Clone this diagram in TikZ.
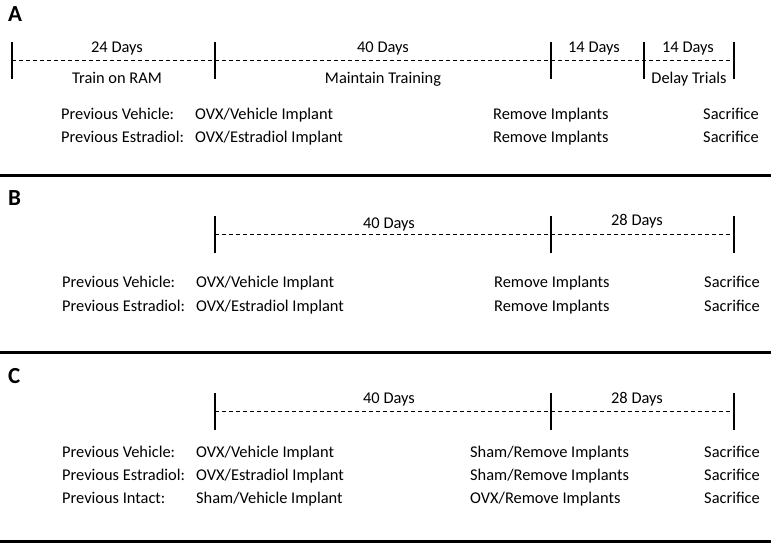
\documentclass[tikz,border=0pt]{standalone}
\usepackage{fontspec}
\setmainfont{Carlito}
\usepackage{xcolor}

\begin{document}
\begin{tikzpicture}[x=1pt, y=-1pt]
        \tikzstyle{marca}=[line width=1.1pt]
        \tikzstyle{periodo}=[dash pattern=on 4pt off 3pt, line width=0.9pt]
        \tikzstyle{divisa}=[line width=3pt]
        \tikzstyle{texto}=[inner sep=0pt, font=\fontsize{16.4}{19}\selectfont]
        \tikzstyle{painel}=[inner sep=0pt, font=\fontsize{23}{27}\selectfont\bfseries]

        \useasboundingbox (0,0) rectangle (771,543);

        % A
        \coordinate (A0) at (12,60);
        \coordinate (A1) at (215,60);
        \coordinate (A2) at (551,60);
        \coordinate (A3) at (644,60);
        \coordinate (A4) at (734,60);
        \coordinate (RA1) at (0,175);
        \coordinate (RA2) at (771,175);

        \node (pA) at (8,22)[painel, anchor=base west]{A};

        \draw[periodo] (A0) -- (A4);
        \draw[marca] (A0) +(0,-18) -- +(0,19);
        \draw[marca] (A1) +(0,-18) -- +(0,19);
        \draw[marca] (A2) +(0,-18) -- +(0,19);
        \draw[marca] (A3) +(0,-18) -- +(0,19);
        \draw[marca] (A4) +(0,-18) -- +(0,19);

        \node (dA1) at (117,53)[texto, anchor=base]{24 Days};
        \node (dA2) at (383,53)[texto, anchor=base]{40 Days};
        \node (dA3) at (594,53)[texto, anchor=base]{14 Days};
        \node (dA4) at (688,53)[texto, anchor=base]{14 Days};
        \node (fA1) at (117,84)[texto, anchor=base]{Train on RAM};
        \node (fA2) at (383,84)[texto, anchor=base]{Maintain Training};
        \node (fA3) at (689,84)[texto, anchor=base]{Delay Trials};

        \node (gA1) at (61,119)[texto, anchor=base west]{Previous Vehicle:};
        \node (gA2) at (61,142)[texto, anchor=base west]{Previous Estradiol:};
        \node (iA1) at (195,119)[texto, anchor=base west]{OVX/Vehicle Implant};
        \node (iA2) at (195,142)[texto, anchor=base west]{OVX/Estradiol Implant};
        \node (rA1) at (493,119)[texto, anchor=base west]{Remove Implants};
        \node (rA2) at (493,142)[texto, anchor=base west]{Remove Implants};
        \node (sA1) at (759,119)[texto, anchor=base east]{Sacrifice};
        \node (sA2) at (759,142)[texto, anchor=base east]{Sacrifice};

        \draw[divisa] (RA1) -- (RA2);

        % B
        \coordinate (B1) at (215,234);
        \coordinate (B2) at (551,234);
        \coordinate (B3) at (734,234);
        \coordinate (RB1) at (0,352);
        \coordinate (RB2) at (771,352);

        \node (pB) at (8,205)[painel, anchor=base west]{B};

        \draw[periodo] (B1) -- (B3);
        \draw[marca] (B1) +(0,-18) -- +(0,19);
        \draw[marca] (B2) +(0,-18) -- +(0,19);
        \draw[marca] (B3) +(0,-18) -- +(0,19);

        \node (dB1) at (389,228)[texto, anchor=base]{40 Days};
        \node (dB2) at (637,225)[texto, anchor=base]{28 Days};

        \node (gB1) at (62,287)[texto, anchor=base west]{Previous Vehicle:};
        \node (gB2) at (62,311)[texto, anchor=base west]{Previous Estradiol:};
        \node (iB1) at (196,287)[texto, anchor=base west]{OVX/Vehicle Implant};
        \node (iB2) at (196,311)[texto, anchor=base west]{OVX/Estradiol Implant};
        \node (rB1) at (494,287)[texto, anchor=base west]{Remove Implants};
        \node (rB2) at (494,311)[texto, anchor=base west]{Remove Implants};
        \node (sB1) at (760,287)[texto, anchor=base east]{Sacrifice};
        \node (sB2) at (760,311)[texto, anchor=base east]{Sacrifice};

        \draw[divisa] (RB1) -- (RB2);

        % C
        \coordinate (C1) at (215,411);
        \coordinate (C2) at (551,411);
        \coordinate (C3) at (734,411);
        \coordinate (RC1) at (0,541);
        \coordinate (RC2) at (771,541);

        \node (pC) at (8,383)[painel, anchor=base west]{C};

        \draw[periodo] (C1) -- (C3);
        \draw[marca] (C1) +(0,-18) -- +(0,19);
        \draw[marca] (C2) +(0,-18) -- +(0,19);
        \draw[marca] (C3) +(0,-18) -- +(0,19);

        \node (dC1) at (389,403)[texto, anchor=base]{40 Days};
        \node (dC2) at (637,403)[texto, anchor=base]{28 Days};

        \node (gC1) at (62,457)[texto, anchor=base west]{Previous Vehicle:};
        \node (gC2) at (62,480)[texto, anchor=base west]{Previous Estradiol:};
        \node (gC3) at (62,503)[texto, anchor=base west]{Previous Intact:};
        \node (iC1) at (196,457)[texto, anchor=base west]{OVX/Vehicle Implant};
        \node (iC2) at (196,480)[texto, anchor=base west]{OVX/Estradiol Implant};
        \node (iC3) at (196,503)[texto, anchor=base west]{Sham/Vehicle Implant};
        \node (rC1) at (470,457)[texto, anchor=base west]{Sham/Remove Implants};
        \node (rC2) at (470,480)[texto, anchor=base west]{Sham/Remove Implants};
        \node (rC3) at (470,503)[texto, anchor=base west]{OVX/Remove Implants};
        \node (sC1) at (760,457)[texto, anchor=base east]{Sacrifice};
        \node (sC2) at (760,480)[texto, anchor=base east]{Sacrifice};
        \node (sC3) at (760,503)[texto, anchor=base east]{Sacrifice};

        \draw[divisa] (RC1) -- (RC2);
      \end{tikzpicture}
\end{document}
